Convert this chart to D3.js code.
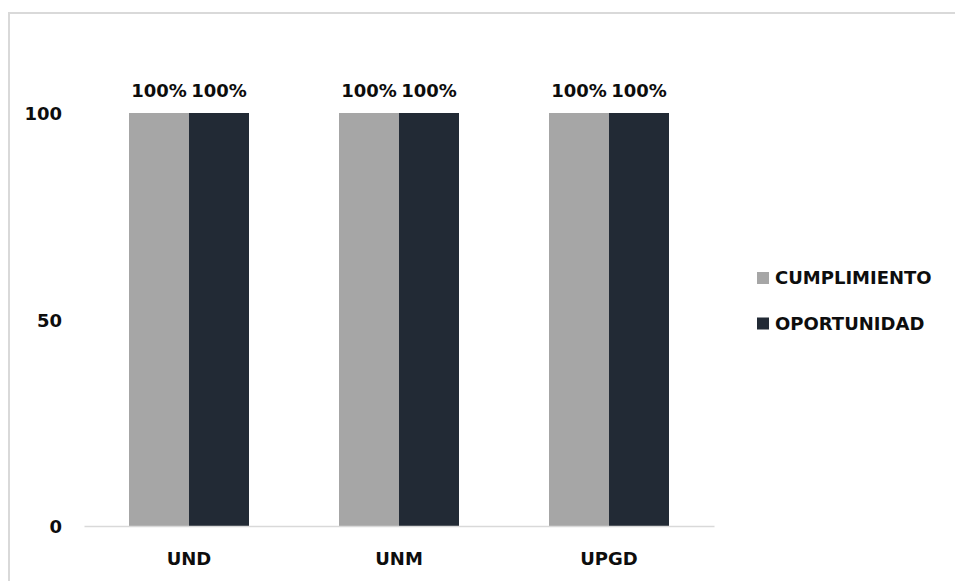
<!DOCTYPE html>
<html>
<head>
<meta charset="utf-8">
<script src="https://cdn.jsdelivr.net/npm/d3@7"></script>
<style>
  html, body { margin: 0; padding: 0; background: #fff; }
  svg { display: block; }
  text { font-family: "DejaVu Sans", sans-serif; font-weight: bold; fill: #0d0d0d; }
</style>
</head>
<body>
<svg id="chart" width="955" height="581"></svg>
<script>
// Categories, series and values
const categories = ["UND", "UNM", "UPGD"];
const seriesNames = ["CUMPLIMIENTO", "OPORTUNIDAD"];
const cumplimiento = [100, 100, 100];
const oportunidad = [100, 100, 100];
const yTicks = [0, 50, 100];
const seriesColors = ["#a6a6a6", "#222a35"];

const seriesValues = [cumplimiento, oportunidad];

const svg = d3.select("#chart");
const W = 955, H = 581;
const FS = 18;

// Chart-area frame (light gray, runs past the right and bottom edges)
svg.append("path")
  .attr("d", `M9,${H + 5} V13 H${W + 5}`)
  .attr("fill", "none")
  .attr("stroke", "#d9d9d9")
  .attr("stroke-width", 2);

const plot = { left: 84, right: 714, top: 113, bottom: 526 };

const x0 = d3.scaleBand()
  .domain(categories)
  .range([plot.left, plot.right])
  .paddingInner(90 / 210)
  .paddingOuter(45 / 210);

const x1 = d3.scaleBand()
  .domain(seriesNames)
  .range([0, x0.bandwidth()]);

const y = d3.scaleLinear()
  .domain([0, 100])
  .range([plot.bottom, plot.top]);

// Bars
const groups = svg.append("g").selectAll("g")
  .data(categories)
  .join("g")
  .attr("transform", d => `translate(${x0(d)},0)`);

groups.selectAll("rect")
  .data((c, i) => seriesNames.map((s, j) => ({ s, j, v: seriesValues[j][i] })))
  .join("rect")
  .attr("x", d => x1(d.s))
  .attr("y", d => y(d.v))
  .attr("width", x1.bandwidth())
  .attr("height", d => y(0) - y(d.v))
  .attr("fill", d => seriesColors[d.j]);

// Value labels
groups.selectAll("text.val")
  .data((c, i) => seriesNames.map((s, j) => ({ s, j, v: seriesValues[j][i] })))
  .join("text")
  .attr("class", "val")
  .attr("x", d => x1(d.s) + x1.bandwidth() / 2)
  .attr("y", d => y(d.v) - 16.5)
  .attr("text-anchor", "middle")
  .attr("font-size", FS)
  .text(d => d.v + "%");

// Y axis (labels only, no line)
const yAxis = d3.axisLeft(y).tickValues(yTicks).tickSize(0).tickPadding(0);
const yg = svg.append("g")
  .attr("transform", "translate(62,0)")
  .call(yAxis);
yg.select(".domain").remove();
yg.selectAll("text")
  .attr("font-size", FS)
  .attr("font-family", "DejaVu Sans, sans-serif")
  .attr("font-weight", "bold")
  .attr("fill", "#0d0d0d")
  .attr("dy", "0.38em");

// X axis baseline and category labels
const xAxis = d3.axisBottom(x0).tickSize(0).tickPadding(0);
const xg = svg.append("g")
  .attr("transform", `translate(0,${plot.bottom})`)
  .call(xAxis);
xg.select(".domain")
  .attr("stroke", "#d9d9d9")
  .attr("stroke-width", 1.5);
xg.selectAll("text")
  .attr("font-size", FS)
  .attr("font-family", "DejaVu Sans, sans-serif")
  .attr("font-weight", "bold")
  .attr("fill", "#0d0d0d")
  .attr("dy", "0")
  .attr("y", 38.5);

// Legend
const legend = svg.append("g").attr("transform", "translate(757,272)");
const items = legend.selectAll("g")
  .data(seriesNames)
  .join("g")
  .attr("transform", (d, i) => `translate(0,${i * 45.5})`);
items.append("rect")
  .attr("width", 12)
  .attr("height", 12)
  .attr("fill", (d, i) => seriesColors[i]);
items.append("text")
  .attr("x", 18)
  .attr("y", 6)
  .attr("dy", "0.36em")
  .attr("font-size", FS)
  .text(d => d);
</script>
</body>
</html>
